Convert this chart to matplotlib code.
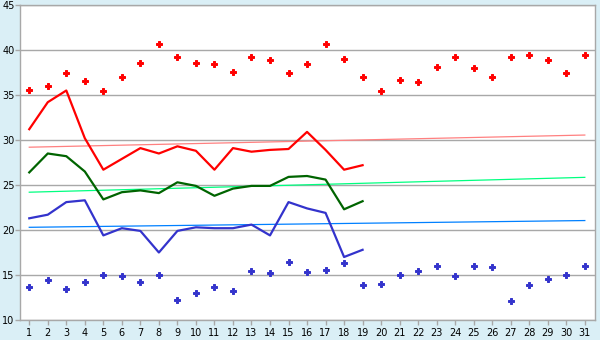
import matplotlib
matplotlib.use("Agg")
import matplotlib.pyplot as plt

# dias del mes
dias = list(range(1, 32))

# maximos diarios (puntos rojos)
maximos = [35.6, 36.0, 37.5, 36.6, 35.5, 37.0, 38.6, 40.7, 39.2, 38.6,
           38.4, 37.6, 39.2, 38.9, 37.5, 38.4, 40.7, 39.0, 37.0, 35.5,
           36.7, 36.5, 38.1, 39.2, 38.0, 37.0, 39.2, 39.4, 38.9, 37.5, 39.4]

# minimos diarios (puntos azules)
minimos = [13.7, 14.5, 13.5, 14.2, 15.0, 14.9, 14.2, 15.0, 12.2, 13.0,
           13.7, 13.2, 15.5, 15.2, 16.5, 15.3, 15.6, 16.3, 13.9, 14.0,
           15.0, 15.5, 16.0, 14.9, 16.0, 15.9, 12.1, 13.9, 14.6, 15.0, 16.0]

# series medidas (solo hasta el dia 19)
dias_med = list(range(1, 20))
max_med = [31.2, 34.2, 35.5, 30.2, 26.7, 27.9, 29.1, 28.5, 29.3, 28.8,
           26.7, 29.1, 28.7, 28.9, 29.0, 30.9, 28.9, 26.7, 27.2]
media_med = [26.4, 28.5, 28.2, 26.5, 23.4, 24.2, 24.4, 24.1, 25.3, 24.9,
             23.8, 24.6, 24.9, 24.9, 25.9, 26.0, 25.6, 22.3, 23.2]
min_med = [21.3, 21.7, 23.1, 23.3, 19.4, 20.2, 19.9, 17.5, 19.9, 20.3,
           20.2, 20.2, 20.6, 19.4, 23.1, 22.4, 21.9, 17.0, 17.8]

# lineas de referencia (inicio, fin)
ref_dias = [1, 31]
ref_max = [29.2, 30.55]
ref_media = [24.2, 25.85]
ref_min = [20.3, 21.05]

fondo = "#daeff6"
gris = "#a8a8a8"

fig = plt.figure(figsize=(6, 3.4), dpi=100, facecolor=fondo)
ax = fig.add_axes([20 / 600, 1 - 320 / 340, 575 / 600, 315 / 340])
ax.set_facecolor("white")

ax.plot(ref_dias, ref_max, color="#ff8080", lw=0.9)
ax.plot(ref_dias, ref_media, color="#00ff80", lw=0.9)
ax.plot(ref_dias, ref_min, color="#0080ff", lw=0.9)

ax.plot(dias_med, max_med, color="#ff0000", lw=1.6)
ax.plot(dias_med, media_med, color="#006400", lw=1.6)
ax.plot(dias_med, min_med, color="#3333cc", lw=1.6)

# cruces gruesas como en el original
ax.plot(dias, maximos, ls="none", marker="P", ms=4.2, color="#ff0000", mew=0.7)
ax.plot(dias, minimos, ls="none", marker="P", ms=4.2, color="#3333cc", mew=0.7)

ax.set_xlim(0.5, 31.55)
ax.set_ylim(10, 45)
ax.set_xticks(dias)
ax.set_yticks(range(10, 46, 5))
ax.yaxis.grid(True, color=gris, lw=1)
ax.set_axisbelow(True)

for lado in ("left", "right", "top", "bottom"):
    ax.spines[lado].set_color(gris)
    ax.spines[lado].set_linewidth(1)

ax.tick_params(axis="both", colors=gris, labelcolor="black", labelsize=7,
               length=3.5, width=1, direction="out")
ax.tick_params(axis="y", pad=0.5)
ax.tick_params(axis="x", pad=2)

fig.savefig("out.png", dpi=100, facecolor=fondo)
